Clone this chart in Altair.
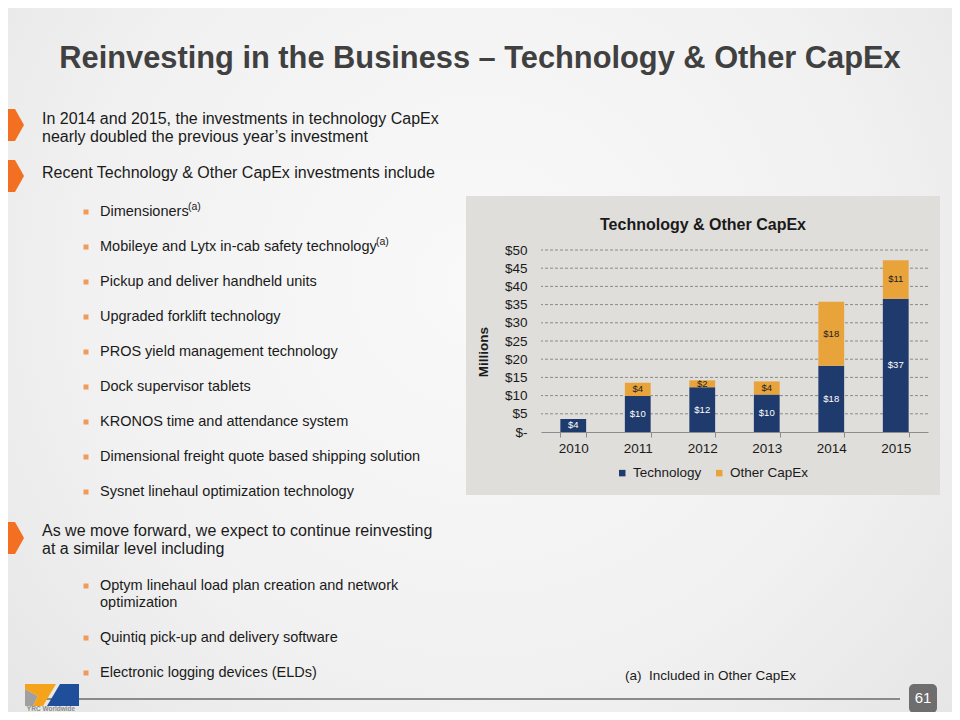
import altair as alt
import pandas as pd

# ---------------- data ----------------
years = ["2010", "2011", "2012", "2013", "2014", "2015"]
technology = [3.6, 9.9, 12.3, 10.3, 18.2, 36.6]
other_capex = [0.0, 3.6, 1.9, 3.6, 17.6, 10.6]
series = ["Technology", "Other CapEx"]
series_colors = ["#1F3B6D", "#E8A33B"]
y_ticks = [0, 5, 10, 15, 20, 25, 30, 35, 40, 45, 50]

slide_title = "Reinvesting in the Business – Technology & Other CapEx"
chart_title = "Technology & Other CapEx"
y_title = "Millions"
intro_lines = ["In 2014 and 2015, the investments in technology CapEx",
               "nearly doubled the previous year’s investment"]
recent_line = "Recent Technology & Other CapEx investments include"
recent_items = ["Dimensioners",
                "Mobileye and Lytx in-cab safety technology",
                "Pickup and deliver handheld units",
                "Upgraded forklift technology",
                "PROS yield management technology",
                "Dock supervisor tablets",
                "KRONOS time and attendance system",
                "Dimensional freight quote based shipping solution",
                "Sysnet linehaul optimization technology"]
superscript = "(a)"
forward_lines = ["As we move forward, we expect to continue reinvesting",
                 "at a similar level including"]
forward_items = [["Optym linehaul load plan creation and network", "optimization"],
                 ["Quintiq pick-up and delivery software"],
                 ["Electronic logging devices (ELDs)"]]
footnote = "(a)\u00a0\u00a0Included in Other CapEx"
page_number = "61"
logo_text = "YRC Worldwide"

# ---------------- layout constants ----------------
FONT = "Liberation Sans"
TEXT = "#1a1a1a"
OX, OY = 541, 250          # plot origin in page-image coordinates
W, H = 387, 182
PAGE_R, PAGE_B = 952, 712  # visible page area without overflow

def rx(x):
    return x - OX

def ry(y):
    return y - OY

dummy = pd.DataFrame({"d": [0]})

def text_layer(text, x, y, size, weight="normal", color=TEXT, align="left",
               baseline="middle", angle=0):
    return alt.Chart(dummy).mark_text(
        text=text, fontSize=size, fontWeight=weight, color=color, align=align,
        baseline=baseline, angle=angle, font=FONT
    ).encode(x=alt.value(rx(x)), y=alt.value(ry(y)))

def rect_layer(x1, y1, x2, y2, fill, radius=0):
    return alt.Chart(dummy).mark_rect(fill=fill, cornerRadius=radius).encode(
        x=alt.value(rx(x1)), x2=alt.value(rx(x2)),
        y=alt.value(ry(y1)), y2=alt.value(ry(y2)))

def shape_layer(path, cx, cy, side, color):
    return alt.Chart(dummy).mark_point(
        shape=path, size=side * side, filled=True, color=color, opacity=1,
        strokeWidth=0
    ).encode(x=alt.value(rx(cx)), y=alt.value(ry(cy)))

# ---------------- chart data ----------------
rows = []
for i, yr in enumerate(years):
    rows.append({"year": yr, "series": series[0], "value": technology[i]})
    rows.append({"year": yr, "series": series[1], "value": other_capex[i]})
df = pd.DataFrame(rows)
grid_df = pd.DataFrame({"tick": y_ticks[1:]})

xscale = alt.Scale(type="band", paddingInner=0.6, paddingOuter=0.3)
yscale = alt.Scale(domain=[0, 50])

x_axis = alt.Axis(title=None, labelAngle=0, labelFontSize=13.5, labelFont=FONT,
                  labelColor=TEXT, domainColor="#8c8c8c", domainWidth=1,
                  tickColor="#8c8c8c", tickSize=5, tickBand="extent",
                  labelPadding=4, grid=False, zindex=1)
y_axis = alt.Axis(values=y_ticks, title=None, grid=False, ticks=False, domain=False,
                  labelExpr="datum.value == 0 ? '$-' : '$' + datum.value",
                  labelFontSize=13.5, labelFont=FONT, labelColor=TEXT,
                  labelPadding=14, zindex=1)

# ---------------- layers ----------------
bg = rect_layer(0, 0, 960, 720, alt.RadialGradient(
    gradient="radial", x1=0.5, y1=0.42, r1=0, x2=0.5, y2=0.42, r2=0.75,
    stops=[alt.GradientStop(color="#f9f9f9", offset=0),
           alt.GradientStop(color="#f1f1f1", offset=0.55),
           alt.GradientStop(color="#e2e2e2", offset=1)]))

panel = rect_layer(466, 196, 940, 495, "#dfdedb")

grid = alt.Chart(grid_df).mark_rule(color="#8a8a8a", strokeDash=[3, 2], strokeWidth=1).encode(
    y=alt.Y("tick:Q", scale=yscale, axis=y_axis))

base = alt.Chart(df).transform_calculate(
    order="datum.series == 'Technology' ? 0 : 1")

bars = base.mark_bar().encode(
    x=alt.X("year:N", scale=xscale, sort=years, axis=x_axis),
    y=alt.Y("value:Q", stack="zero", scale=yscale, axis=y_axis),
    color=alt.Color("series:N", scale=alt.Scale(domain=series, range=series_colors),
                    legend=alt.Legend(title=None, orient="none", legendX=74.5, legendY=216,
                                      direction="horizontal", symbolType="square",
                                      symbolSize=42, symbolStrokeWidth=0,
                                      labelFontSize=13.5, labelFont=FONT, labelColor=TEXT,
                                      labelOffset=4, columnPadding=11, padding=0, zindex=1)),
    order=alt.Order("order:Q"),
)

labels = base.transform_filter("datum.value > 0").transform_stack(
    stack="value", as_=["y0", "y1"], groupby=["year"], sort=[alt.SortField("order")]
).transform_calculate(mid="(datum.y0 + datum.y1) / 2").mark_text(
    fontSize=9.5, font=FONT, baseline="middle"
).encode(
    x=alt.X("year:N", scale=xscale, sort=years, axis=x_axis),
    y=alt.Y("mid:Q", scale=yscale, axis=y_axis),
    text=alt.Text("value:Q", format="$.0f"),
    color=alt.condition("datum.series == 'Technology'", alt.value("#ffffff"), alt.value("#222222")),
)

layers = [bg, panel, grid, bars, labels]

# chart title and y title
layers.append(text_layer(chart_title, 703, 225, 16, weight="bold", align="center"))
layers.append(text_layer(y_title, 484, 352, 13.5, weight="bold", align="center", angle=270))

# slide title
layers.append(text_layer(slide_title, 480, 68, 30.8, weight="bold", color="#404040",
                         align="center", baseline="alphabetic"))

# orange arrows
arrow = "M -0.706 -0.94 L 0.176 -0.94 L 0.706 0 L 0.176 0.94 L -0.706 0.94 Z"
for cy in [125, 176, 538]:
    layers.append(shape_layer(arrow, 12, cy, 34, "#F36F21"))

# intro and recent text
for i, line in enumerate(intro_lines):
    layers.append(text_layer(line, 42, 119 + 18 * i, 16))
layers.append(text_layer(recent_line, 42, 173, 16))

BULLET = "#F19A5B"
for i, item in enumerate(recent_items):
    cy = 212 + 35 * i
    layers.append(alt.Chart(dummy).mark_square(size=25, color=BULLET, opacity=1).encode(
        x=alt.value(rx(86)), y=alt.value(ry(cy))))
    layers.append(text_layer(item, 100, cy, 14.5))
layers.append(text_layer(superscript, 188, 207, 10.5))
layers.append(text_layer(superscript, 376, 242, 10.5))

for i, line in enumerate(forward_lines):
    layers.append(text_layer(line, 42, 531 + 18 * i, 16))

f_y = [586, 638, 673]
for item, cy in zip(forward_items, f_y):
    layers.append(alt.Chart(dummy).mark_square(size=25, color=BULLET, opacity=1).encode(
        x=alt.value(rx(86)), y=alt.value(ry(cy))))
    for j, line in enumerate(item):
        layers.append(text_layer(line, 100, cy + 17 * j, 14.5))

layers.append(text_layer(footnote, 625, 676, 13.5))

# footer line and page number
layers.append(alt.Chart(dummy).mark_rule(color="#8a8a8a", strokeWidth=2).encode(
    x=alt.value(rx(45)), x2=alt.value(rx(900)), y=alt.value(ry(699))))
layers.append(rect_layer(909, 684, 937, 713, "#6e6e6e", radius=5))
layers.append(text_layer(page_number, 923, 698, 15, color="#ffffff", align="center"))

# logo
orange_path = ("M -0.964 -0.393 L 0.143 -0.393 L -0.321 0.393 L -0.679 0.393 "
               "L -0.5 0.036 L -0.964 -0.214 Z")
gray_path = "M -0.964 -0.214 L -0.5 0.036 L -0.679 0.393 L -0.964 0.393 Z"
blue_path = "M 0.286 -0.393 L 0.964 -0.393 L 0.964 0.393 L -0.179 0.393 Z"
layers.append(shape_layer(gray_path, 52, 695, 56, "#a0a0a0"))
layers.append(shape_layer(orange_path, 52, 695, 56, "#F5A31A"))
layers.append(shape_layer(blue_path, 52, 695, 56, "#1F4E9A"))
layers.append(text_layer(logo_text, 51, 709, 6.5, weight="bold", color="#8a8a8a", align="center"))

chart = alt.layer(*layers).properties(
    width=W, height=H,
    autosize=alt.AutoSizeParams(type="none"),
    padding={"left": OX - 8, "top": OY - 8, "right": PAGE_R - (OX + W), "bottom": PAGE_B - (OY + H)},
).configure_view(strokeWidth=0)

chart.save("out.html", embed_options={"renderer": "svg", "actions": False})
